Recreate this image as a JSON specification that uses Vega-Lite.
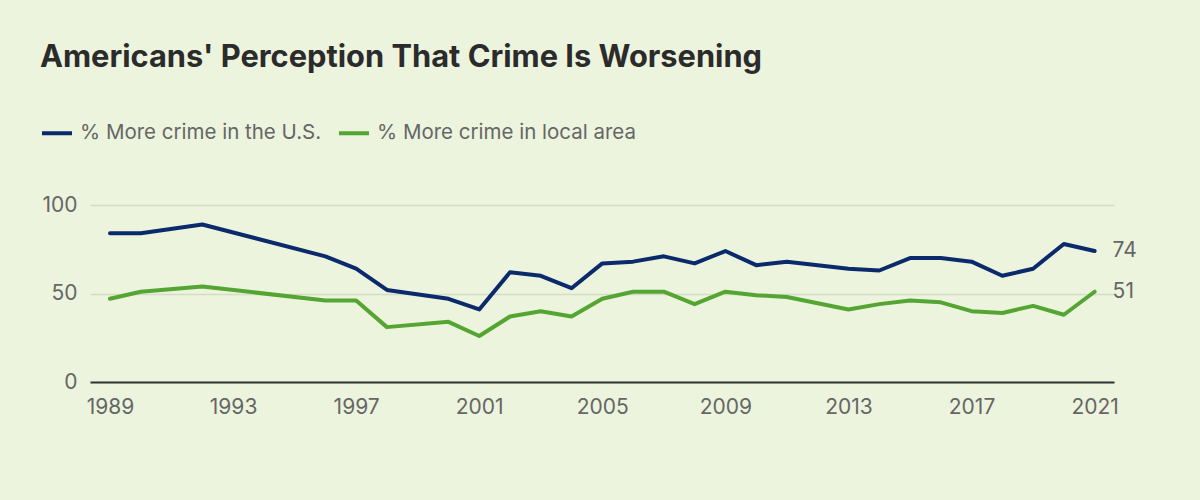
{
  "$schema": "https://vega.github.io/schema/vega-lite/v6.json",
  "width": 1024,
  "height": 177,
  "autosize": {"type": "none"},
  "padding": {"left": 90, "top": 205, "right": 86, "bottom": 118},
  "background": "#ECF4DE",
  "title": {
    "text": "Americans' Perception That Crime Is Worsening",
    "anchor": "start",
    "frame": "group",
    "dx": -50,
    "offset": 42,
    "font": "Inter",
    "fontSize": 30.8,
    "fontWeight": "bold",
    "color": "#2B2B2B"
  },
  "config": {
    "view": {"stroke": null},
    "font": "Inter"
  },
  "data": {
    "values": [
      {"year": 1989, "series": "% More crime in the U.S.", "value": 84},
      {"year": 1990, "series": "% More crime in the U.S.", "value": 84},
      {"year": 1992, "series": "% More crime in the U.S.", "value": 89},
      {"year": 1996, "series": "% More crime in the U.S.", "value": 71},
      {"year": 1997, "series": "% More crime in the U.S.", "value": 64},
      {"year": 1998, "series": "% More crime in the U.S.", "value": 52},
      {"year": 2000, "series": "% More crime in the U.S.", "value": 47},
      {"year": 2001, "series": "% More crime in the U.S.", "value": 41},
      {"year": 2002, "series": "% More crime in the U.S.", "value": 62},
      {"year": 2003, "series": "% More crime in the U.S.", "value": 60},
      {"year": 2004, "series": "% More crime in the U.S.", "value": 53},
      {"year": 2005, "series": "% More crime in the U.S.", "value": 67},
      {"year": 2006, "series": "% More crime in the U.S.", "value": 68},
      {"year": 2007, "series": "% More crime in the U.S.", "value": 71},
      {"year": 2008, "series": "% More crime in the U.S.", "value": 67},
      {"year": 2009, "series": "% More crime in the U.S.", "value": 74},
      {"year": 2010, "series": "% More crime in the U.S.", "value": 66},
      {"year": 2011, "series": "% More crime in the U.S.", "value": 68},
      {"year": 2013, "series": "% More crime in the U.S.", "value": 64},
      {"year": 2014, "series": "% More crime in the U.S.", "value": 63},
      {"year": 2015, "series": "% More crime in the U.S.", "value": 70},
      {"year": 2016, "series": "% More crime in the U.S.", "value": 70},
      {"year": 2017, "series": "% More crime in the U.S.", "value": 68},
      {"year": 2018, "series": "% More crime in the U.S.", "value": 60},
      {"year": 2019, "series": "% More crime in the U.S.", "value": 64},
      {"year": 2020, "series": "% More crime in the U.S.", "value": 78},
      {"year": 2021, "series": "% More crime in the U.S.", "value": 74},
      {"year": 1989, "series": "% More crime in local area", "value": 47},
      {"year": 1990, "series": "% More crime in local area", "value": 51},
      {"year": 1992, "series": "% More crime in local area", "value": 54},
      {"year": 1996, "series": "% More crime in local area", "value": 46},
      {"year": 1997, "series": "% More crime in local area", "value": 46},
      {"year": 1998, "series": "% More crime in local area", "value": 31},
      {"year": 2000, "series": "% More crime in local area", "value": 34},
      {"year": 2001, "series": "% More crime in local area", "value": 26},
      {"year": 2002, "series": "% More crime in local area", "value": 37},
      {"year": 2003, "series": "% More crime in local area", "value": 40},
      {"year": 2004, "series": "% More crime in local area", "value": 37},
      {"year": 2005, "series": "% More crime in local area", "value": 47},
      {"year": 2006, "series": "% More crime in local area", "value": 51},
      {"year": 2007, "series": "% More crime in local area", "value": 51},
      {"year": 2008, "series": "% More crime in local area", "value": 44},
      {"year": 2009, "series": "% More crime in local area", "value": 51},
      {"year": 2010, "series": "% More crime in local area", "value": 49},
      {"year": 2011, "series": "% More crime in local area", "value": 48},
      {"year": 2013, "series": "% More crime in local area", "value": 41},
      {"year": 2014, "series": "% More crime in local area", "value": 44},
      {"year": 2015, "series": "% More crime in local area", "value": 46},
      {"year": 2016, "series": "% More crime in local area", "value": 45},
      {"year": 2017, "series": "% More crime in local area", "value": 40},
      {"year": 2018, "series": "% More crime in local area", "value": 39},
      {"year": 2019, "series": "% More crime in local area", "value": 43},
      {"year": 2020, "series": "% More crime in local area", "value": 38},
      {"year": 2021, "series": "% More crime in local area", "value": 51}
    ]
  },
  "encoding": {
    "x": {
      "field": "year",
      "type": "quantitative",
      "scale": {"domain": [1988.35, 2021.63], "nice": false, "zero": false},
      "axis": {
        "title": null,
        "values": [1989, 1993, 1997, 2001, 2005, 2009, 2013, 2017, 2021],
        "format": "d",
        "grid": false,
        "ticks": false,
        "domainColor": "#333333",
        "domainWidth": 2,
        "labelFontSize": 21,
        "labelColor": "#666666",
        "labelPadding": 14,
        "labelFont": "Inter"
      }
    },
    "y": {
      "field": "value",
      "type": "quantitative",
      "scale": {"domain": [0, 100], "nice": false},
      "axis": {
        "title": null,
        "values": [0, 50, 100],
        "domain": false,
        "ticks": false,
        "gridColor": "#D4DCC8",
        "gridWidth": 1.5,
        "labelFontSize": 21,
        "labelColor": "#666666",
        "labelPadding": 13,
        "labelFont": "Inter"
      }
    },
    "color": {
      "field": "series",
      "type": "nominal",
      "scale": {
        "domain": ["% More crime in the U.S.", "% More crime in local area"],
        "range": ["#0A2A6B", "#55A532"]
      },
      "legend": {
        "title": null,
        "orient": "none",
        "legendX": -50,
        "legendY": -89,
        "direction": "horizontal",
        "symbolType": "stroke",
        "symbolSize": 900,
        "symbolStrokeWidth": 4,
        "labelFontSize": 20.5,
        "labelColor": "#666666",
        "labelFont": "Inter",
        "labelLimit": 0,
        "labelOffset": 6,
        "columnPadding": 9
      }
    }
  },
  "layer": [
    {
      "mark": {"type": "line", "strokeWidth": 4, "strokeJoin": "round", "strokeCap": "round"}
    },
    {
      "transform": [{"filter": "datum.year == 2021"}],
      "mark": {"type": "text", "align": "left", "baseline": "middle", "dx": 18, "fontSize": 21, "color": "#666666", "font": "Inter"},
      "encoding": {
        "text": {"field": "value", "type": "quantitative"},
        "color": {"value": "#666666"}
      }
    }
  ]
}
